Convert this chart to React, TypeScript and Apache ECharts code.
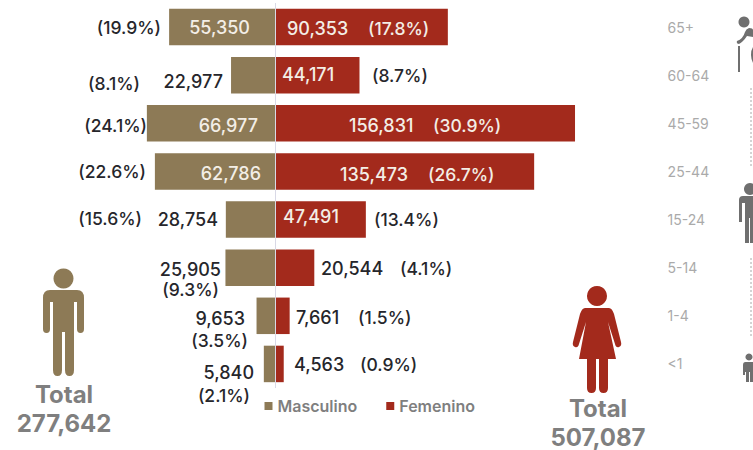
import React, { useEffect, useRef } from "react";
import * as echarts from "echarts";

const ages = ["65+", "60-64", "45-59", "25-44", "15-24", "5-14", "1-4", "<1"];
const maleValues = ["55,350", "22,977", "66,977", "62,786", "28,754", "25,905", "9,653", "5,840"];
const malePct = ["(19.9%)", "(8.1%)", "(24.1%)", "(22.6%)", "(15.6%)", "(9.3%)", "(3.5%)", "(2.1%)"];
const femaleValues = ["90,353", "44,171", "156,831", "135,473", "47,491", "20,544", "7,661", "4,563"];
const femalePct = ["(17.8%)", "(8.7%)", "(30.9%)", "(26.7%)", "(13.4%)", "(4.1%)", "(1.5%)", "(0.9%)"];
// Bar lengths as drawn (the 15-24 male bar is drawn shorter than its label says).
const maleBars = [55350, 22977, 66977, 62786, 25700, 25905, 9653, 5840];
const femaleBars = [90353, 44171, 156831, 135473, 47491, 20544, 7661, 4563];
const totalMale = "277,642";
const totalFemale = "507,087";

const BROWN = "#8d7a56";
const RED = "#a32a1c";
const INK = "#26262b";
const GREY = "#7f7f7f";
const ICON = "#6f6f6f";

// [x, y] of each label: left-side labels are right-aligned, right-side left-aligned
const maleValuePos = [[250, 27], [223, 81], [258, 125], [261, 173], [218, 219], [221, 269], [245, 318], [254, 372]];
const malePctPos = [[161, 27], [140, 83], [147, 125], [146, 171], [142, 218], [219, 289], [248, 340], [250, 395]];
const femaleValuePos = [[287, 28], [282, 74], [349, 125], [340, 174], [283, 216], [321, 268], [296, 317], [294, 364]];
const femalePctPos = [[368, 28], [372, 75], [433, 125], [428, 174], [374, 219], [400, 268], [358, 317], [360, 364]];
const maleValueWhite = [true, false, true, true, false, false, false, false];
const femaleValueWhite = [true, true, true, true, true, false, false, false];
const femalePctWhite = [true, false, true, true, false, false, false, false];

const manD = "M63.5 268.500a10 10 0 1 1 -0.01 0z M50 290H77Q84 290 84 298V329Q84 333 80.500 333Q77 333 77 329V302H74V370Q74 376 69.500 376Q65 376 65 370V332H62V370Q62 376 57.500 376Q53 376 53 370V302H50V329Q50 333 46.500 333Q43 333 43 329V298Q43 290 50 290z";
const womanD = "M597 286a10 10 0 1 1 -0.01 0z M585 308H609Q612 308 614 314L621 342Q622 346 619 347Q616 348 615 344L608 322L616 359H608V388Q608 393 603.500 393Q599 393 599 388V359H596V388Q596 393 591.500 393Q587 393 587 388V359H579L586 322L579 344Q578 348 575 347Q572 346 573 342L580 314Q582 308 585 308z";
const elderD = "M744 16.500a5.500 5.500 0 1 1 -0.01 0z M749 28Q753 28 753 30V37L747 36Q743 42 739 44Q736 44 737 41Q743 39 745 32Q746 29 749 28z M738 46H740V72H738z M753 47V63Q751 59 751 55Q751 50 753 47z";
const adultD = "M750 183a6 6 0 1 1 -0.01 0z M743 196H753V243H750V218H749V243H745V222H745V203H742V222H739V200Q739 196 743 196z";
const babyD = "M749 353.500a3.500 3.500 0 1 1 -0.01 0z M745.500 362H753V382H750V372H749V382H746V372H745V375H743V365Q743 362 745.500 362z";

echarts.graphic.registerShape("manIcon", echarts.graphic.extendPath(manD, {}));
echarts.graphic.registerShape("womanIcon", echarts.graphic.extendPath(womanD, {}));
echarts.graphic.registerShape("elderIcon", echarts.graphic.extendPath(elderD, {}));
echarts.graphic.registerShape("adultIcon", echarts.graphic.extendPath(adultD, {}));
echarts.graphic.registerShape("babyIcon", echarts.graphic.extendPath(babyD, {}));

const FONT = "Inter, 'Noto Sans', sans-serif";

function label(text: string, pos: number[], align: string, white: boolean, size: number) {
  return {
    type: "text",
    x: pos[0],
    y: pos[1],
    z: 20,
    silent: true,
    style: {
      text,
      align,
      verticalAlign: "middle",
      fontFamily: FONT,
      fontSize: size,
      fontWeight: 500,
      fill: white ? "#f3eee6" : INK,
    },
  };
}

function total(title: string, value: string, x: number, y: number) {
  const style = { align: "center", verticalAlign: "middle", fontFamily: FONT, fontWeight: 700, fontSize: 24, fill: GREY };
  return [
    { type: "text", x, y, z: 20, silent: true, style: { ...style, text: title } },
    { type: "text", x, y: y + 29, z: 20, silent: true, style: { ...style, text: value } },
  ];
}

export default function App() {
  const ref = useRef<HTMLDivElement>(null);
  useEffect(() => {
    document.body.style.margin = "0";
    const chart = echarts.init(ref.current!, null, { renderer: "svg" });
    const graphics: any[] = [];
    ages.forEach((_, i) => {
      graphics.push(label(maleValues[i], maleValuePos[i], "right", maleValueWhite[i], 18));
      graphics.push(label(malePct[i], malePctPos[i], "right", false, 17.5));
      graphics.push(label(femaleValues[i], femaleValuePos[i], "left", femaleValueWhite[i], 18));
      graphics.push(label(femalePct[i], femalePctPos[i], "left", femalePctWhite[i], 17.5));
    });
    graphics.push(...total("Total", totalMale, 64, 394), ...total("Total", totalFemale, 598, 408));
    graphics.push({ type: "manIcon", silent: true, style: { fill: BROWN } });
    graphics.push({ type: "womanIcon", silent: true, style: { fill: RED } });
    graphics.push({ type: "elderIcon", silent: true, style: { fill: ICON } });
    graphics.push({ type: "adultIcon", silent: true, style: { fill: ICON } });
    graphics.push({ type: "babyIcon", silent: true, style: { fill: ICON } });
    [[88, 168], [258, 338]].forEach(([y1, y2]) =>
      graphics.push({
        type: "line",
        silent: true,
        shape: { x1: 751, y1, x2: 751, y2 },
        style: { stroke: "#a8a8a8", lineWidth: 1, lineDash: [2, 2] },
      })
    );
    chart.setOption({
      animation: false,
      backgroundColor: "#ffffff",
      grid: { left: 83.7, top: 3, width: 573.9, height: 385 },
      xAxis: { type: "value", min: -100000, max: 200000, show: false },
      yAxis: {
        type: "category",
        data: ages,
        inverse: true,
        position: "right",
        axisLine: { show: false },
        axisTick: { show: false },
        axisLabel: { margin: 10, color: "#aaaaaa", fontFamily: FONT, fontSize: 14, fontWeight: 400 },
      },
      legend: {
        left: 259.5,
        top: 393,
        itemWidth: 8,
        itemHeight: 8,
        itemGap: 29,
        icon: "rect",
        textStyle: { color: GREY, fontFamily: FONT, fontSize: 16, fontWeight: 600 },
        data: ["Masculino", "Femenino"],
      },
      graphic: graphics,
      series: [
        {
          name: "Masculino",
          type: "bar",
          stack: "pop",
          barWidth: 36.5,
          itemStyle: { color: BROWN },
          data: maleBars.map((v) => -v),
          markLine: {
            silent: true,
            symbol: "none",
            label: { show: false },
            lineStyle: { color: "#d9d9e6", type: "solid", width: 1 },
            data: [{ xAxis: 0 }],
          },
        },
        {
          name: "Femenino",
          type: "bar",
          stack: "pop",
          barWidth: 36.5,
          itemStyle: { color: RED },
          data: femaleBars,
        },
      ],
    });
    return () => chart.dispose();
  }, []);
  return <div ref={ref} style={{ width: 753, height: 450 }} />;
}
